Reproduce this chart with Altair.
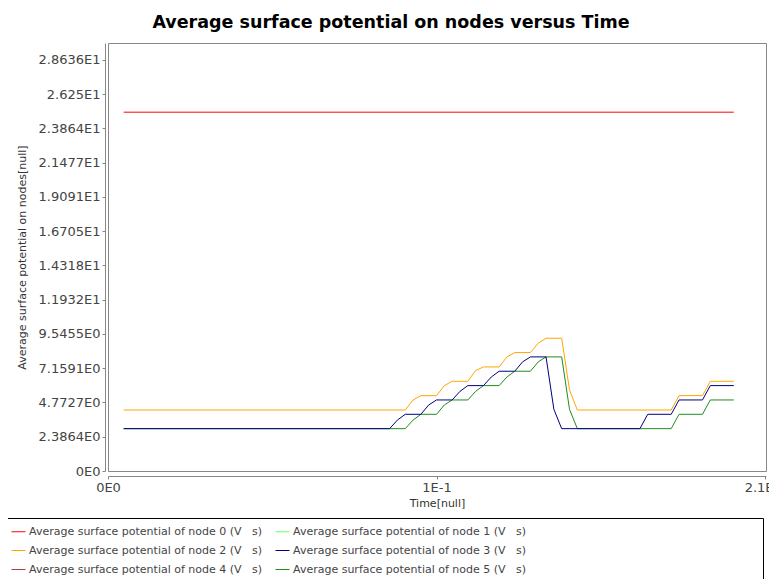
import json
import altair as alt
import pandas as pd

# ---------------- data ----------------
series_names = [
    "Average surface potential of node 0 (V\u00a0\u00a0\u00a0s)",
    "Average surface potential of node 1 (V\u00a0\u00a0\u00a0s)",
    "Average surface potential of node 2 (V\u00a0\u00a0\u00a0s)",
    "Average surface potential of node 3 (V\u00a0\u00a0\u00a0s)",
    "Average surface potential of node 4 (V\u00a0\u00a0\u00a0s)",
    "Average surface potential of node 5 (V\u00a0\u00a0\u00a0s)",
]
series_colors = ["#ff0000", "#66ff66", "#ffa500", "#000080", "#b03a50", "#1e8c1e"]

node0_t = [0.005, 0.2]
node0_v = [25.0, 25.0]

node2_t = [0.005, 0.095, 0.0975, 0.1, 0.105, 0.1075, 0.11, 0.115, 0.1175, 0.12,
           0.125, 0.1275, 0.13, 0.135, 0.1375, 0.14, 0.145, 0.1475, 0.15, 0.18,
           0.1825, 0.19, 0.1925, 0.2]
node2_v = [4.25, 4.25, 4.95, 5.25, 5.25, 5.95, 6.25, 6.25, 7.0, 7.25,
           7.25, 7.95, 8.25, 8.25, 8.9, 9.25, 9.25, 5.65, 4.25, 4.25,
           5.25, 5.25, 6.25, 6.25]

node3_t = [0.005, 0.09, 0.0925, 0.095, 0.1, 0.1025, 0.105, 0.11, 0.1125, 0.115,
           0.12, 0.1225, 0.125, 0.13, 0.1325, 0.135, 0.14, 0.1425, 0.145, 0.17,
           0.1725, 0.18, 0.1825, 0.19, 0.1925, 0.2]
node3_v = [2.95, 2.95, 3.55, 3.95, 3.95, 4.6, 4.95, 4.95, 5.55, 5.95,
           5.95, 6.55, 6.95, 6.95, 7.6, 7.95, 7.95, 4.3, 2.95, 2.95,
           3.95, 3.95, 4.95, 4.95, 5.95, 5.95]

node5_t = [0.005, 0.095, 0.0975, 0.1, 0.105, 0.1075, 0.11, 0.115, 0.1175, 0.12,
           0.125, 0.1275, 0.13, 0.135, 0.1375, 0.14, 0.145, 0.1475, 0.15, 0.18,
           0.1825, 0.19, 0.1925, 0.2]
node5_v = [2.95, 2.95, 3.55, 3.95, 3.95, 4.6, 4.95, 4.95, 5.55, 5.95,
           5.95, 6.55, 6.95, 6.95, 7.6, 7.95, 7.95, 4.3, 2.95, 2.95,
           3.95, 3.95, 4.95, 4.95]

y_tick_vals = [0, 2.3864, 4.7727, 7.1591, 9.5455, 11.932, 14.318, 16.705,
               19.091, 21.477, 23.864, 26.25, 28.636]
y_tick_labels = ["0E0", "2.3864E0", "4.7727E0", "7.1591E0", "9.5455E0", "1.1932E1",
                 "1.4318E1", "1.6705E1", "1.9091E1", "2.1477E1", "2.3864E1",
                 "2.625E1", "2.8636E1"]
x_tick_vals = [0, 0.105, 0.21]
x_tick_labels = ["0E0", "1E-1", "2.1E-1"]

# ---------------- build table ----------------
# nodes 1 and 4 are hidden under other curves in the reference; only their legend entries show
all_series = [
    (series_names[0], node0_t, node0_v),
    (series_names[2], node2_t, node2_v),
    (series_names[5], node5_t, node5_v),
    (series_names[3], node3_t, node3_v),
]
rows = []
for name, ts, vs in all_series:
    for t, v in zip(ts, vs):
        rows.append({"series": name, "time": t, "value": v})
df = pd.DataFrame(rows)

FONT = "DejaVu Sans"
pad_spaces = "\u00a0" * 66 + "\u200b"

x_enc = alt.X(
    "time:Q",
    scale=alt.Scale(domain=[0, 0.2103], nice=False, zero=False),
    axis=alt.Axis(
        title="Time[null]",
        values=x_tick_vals,
        labelExpr=f"{json.dumps(x_tick_labels)}[indexof({json.dumps(x_tick_vals)}, datum.value)]",
        labelFlush=False,
        labelOverlap=False,
        labelBound=False,
        offset=5,
        tickSize=3,
        labelPadding=2,
        titlePadding=3,
        grid=False,
    ),
)
y_enc = alt.Y(
    "value:Q",
    scale=alt.Scale(domain=[0, 29.82], nice=False, zero=True),
    axis=alt.Axis(
        title="Average surface potential on nodes[null]",
        values=y_tick_vals,
        labelExpr=f"{json.dumps(y_tick_labels)}[indexof({json.dumps(y_tick_vals)}, datum.value)]",
        labelOverlap=False,
        labelFlush=False,
        offset=3,
        tickSize=3,
        labelPadding=2,
        titlePadding=11,
        grid=False,
    ),
)
color_enc = alt.Color(
    "series:N",
    scale=alt.Scale(domain=series_names, range=series_colors),
    legend=alt.Legend(
        title=None,
        orient="none",
        legendX=-103,
        legendY=475,
        direction="horizontal",
        columns=2,
        symbolType="stroke",
        symbolSize=196,
        symbolStrokeWidth=1,
        labelFont=FONT,
        labelFontSize=11,
        labelColor="#444444",
        labelLimit=1200,
        labelOffset=3,
        columnPadding=10,
        rowPadding=6,
        padding=6,
        strokeColor="#000000",
        fillColor="#ffffff",
        cornerRadius=0,
        labelExpr=f"datum.index % 2 == 1 ? datum.label + '{pad_spaces}' : datum.label",
    ),
)

draw_order = [0, 2, 5, 3]
layers = []
for idx in draw_order:
    layers.append(
        alt.Chart(df)
        .transform_filter(alt.datum.series == series_names[idx])
        .mark_line(strokeWidth=1, clip=True)
        .encode(x=x_enc, y=y_enc, color=color_enc)
    )

chart = (
    alt.layer(*layers)
    .properties(
        width=658,
        height=428,
        title=alt.TitleParams(
            text="Average surface potential on nodes versus Time",
            font=FONT,
            fontSize=17.5,
            fontWeight="bold",
            color="#000000",
            anchor="middle",
            dx=-46,
            offset=12,
        ),
        autosize=alt.AutoSizeParams(type="none"),
        padding={"left": 100, "top": 35, "right": 3, "bottom": 110},
    )
    .configure_view(stroke="#888888", strokeWidth=1)
    .configure_axis(
        domainColor="#888888",
        tickColor="#888888",
        labelColor="#444444",
        labelFont=FONT,
        labelFontSize=13,
        titleFont=FONT,
        titleFontSize=11,
        titleFontWeight="normal",
        titleColor="#333333",
    )
)

chart.save("out.html", embed_options={"renderer": "svg", "actions": False})
